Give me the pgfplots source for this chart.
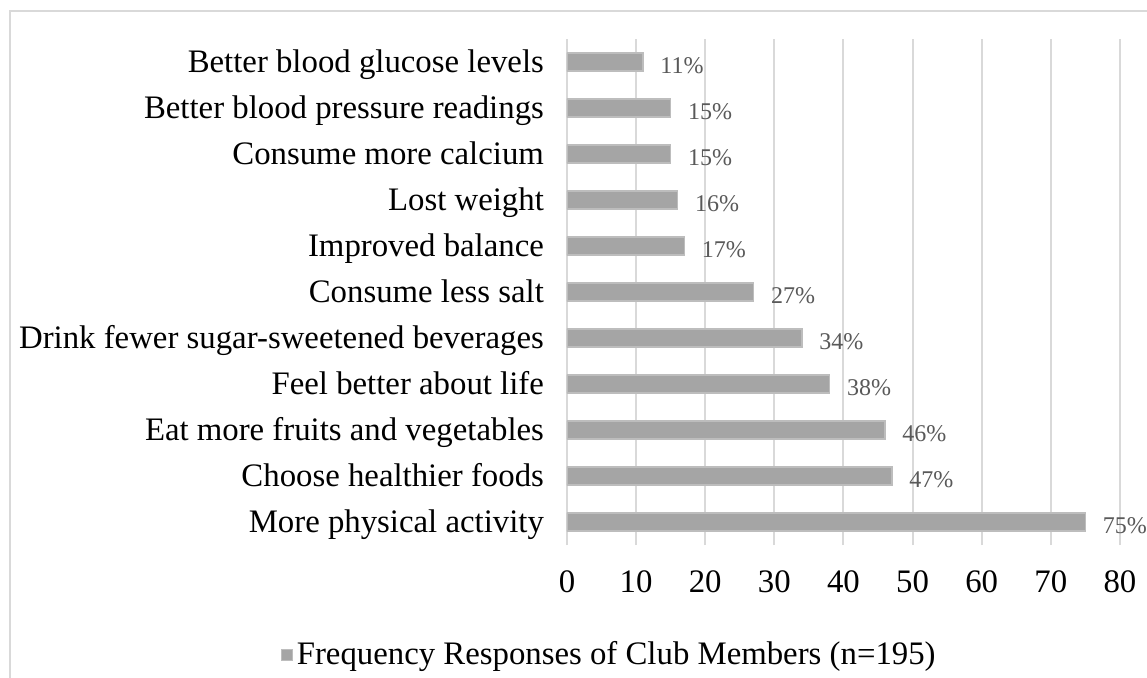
\documentclass[border=0pt]{standalone}
\usepackage{fontspec}
\setmainfont{Liberation Serif}
\usepackage{pgfplots}
\pgfplotsset{compat=1.18}
\definecolor{barfill}{HTML}{A5A5A5}
\definecolor{baredge}{HTML}{BDBDBD}
\definecolor{gridc}{HTML}{D9D9D9}
\definecolor{lblc}{HTML}{595959}

\begin{document}
\begin{tikzpicture}
\useasboundingbox (-283.5pt,-66pt) rectangle (290pt,272.5pt);
\draw[gridc, line width=1pt] (-278.5pt,-70pt) -- (-278.5pt,267pt) -- (300pt,267pt);
\begin{axis}[
  scale only axis, width=276.5pt, height=253pt,
  xbar, bar width=9pt,
  xmin=0, xmax=80, ymin=-0.5, ymax=10.5,
  xtick={0,10,...,80},
  ytick={0,...,10},
  yticklabels={More physical activity, Choose healthier foods, Eat more fruits and vegetables,
    Feel better about life, Drink fewer sugar-sweetened beverages, Consume less salt,
    Improved balance\ , Lost weight, Consume more calcium, Better blood pressure readings,
    Better blood glucose levels},
  /pgf/number format/assume math mode=true,
  typeset ticklabels with strut,
  tick label style={font=\fontsize{16.4}{19}\selectfont, text=black},
  xticklabel style={yshift=-7pt},
  yticklabel style={xshift=-8pt, yshift=-1.5pt},
  major tick length=0pt,
  axis line style={draw=none},
  xmajorgrids, grid style={gridc, line width=1pt},
  nodes near coords={\pgfmathprintnumber{\pgfplotspointmeta}\%},
  point meta=x,
  nodes near coords style={anchor=west, xshift=5pt, yshift=-2pt, text=lblc, font=\fontsize{12}{14}\selectfont},
  legend style={draw=none, fill=none, at={(0.078,-0.217)}, anchor=center,
    font=\fontsize{16.4}{19}\selectfont, legend cell align=left},
  legend image code/.code={\draw[fill=barfill, draw=baredge, line width=0.5pt] (0pt,-2.8pt) rectangle (5.6pt,2.8pt);},
]
\addplot[fill=barfill, draw=baredge, line width=0.75pt] coordinates {
  (75,0) (47,1) (46,2) (38,3) (34,4) (27,5) (17,6) (16,7) (15,8) (15,9) (11,10)};
\addlegendentry{Frequency Responses of Club Members (n=195)}
\end{axis}
\end{tikzpicture}
\end{document}
